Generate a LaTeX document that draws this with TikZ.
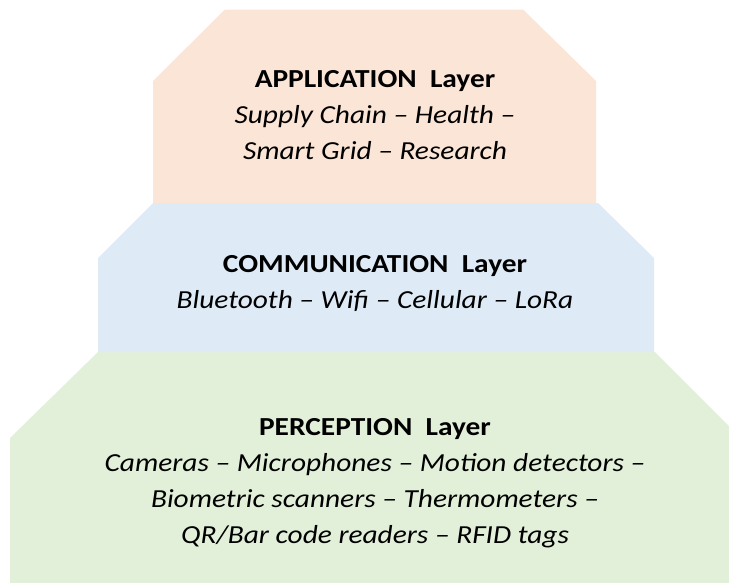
\documentclass[tikz,border=0pt]{standalone}
\usepackage{fontspec}
\setmainfont{Carlito}[FakeStretch=1.13]
\definecolor{appfill}{HTML}{FBE5D6}
\definecolor{comfill}{HTML}{DEEBF7}
\definecolor{perfill}{HTML}{E2F0D9}
\begin{document}
\begin{tikzpicture}[x=1pt,y=-1pt,
  layerbox/.style={draw=none},
  layertext/.style={align=center,inner sep=0pt,font=\fontsize{26}{36}\selectfont}]
  % canvas
  \path[fill=white] (0,0) rectangle (729,582);
  \useasboundingbox (0,0) rectangle (729,582);
  \begin{scope}
    \clip (0,0) rectangle (729,582);
    % perception layer (widest, runs past the edges)
    \fill[perfill,layerbox] (98,352) -- (655,352) -- (741,438) -- (741,600)
      -- (10,600) -- (10,438) -- cycle;
    % communication layer
    \fill[comfill,layerbox] (153,203) -- (598,203) -- (654,258) -- (654,352)
      -- (98,352) -- (98,258) -- cycle;
    % application layer
    \fill[appfill,layerbox] (225,9.5) -- (523,9.5) -- (596,81) -- (596,203)
      -- (153,203) -- (153,81) -- cycle;
  \end{scope}
  \node[layertext] (app) at (375,115)
    {\textbf{APPLICATION\ \ Layer}\\
     \textit{Supply Chain – Health –}\\
     \textit{Smart Grid – Research}};
  \node[layertext] (com) at (375,283)
    {\textbf{COMMUNICATION\ \ Layer}\\
     \textit{Bluetooth – Wifi – Cellular – LoRa}};
  \node[layertext] (per) at (375,483)
    {\textbf{PERCEPTION\ \ Layer}\\
     \textit{Cameras – Microphones – Motion detectors –}\\
     \textit{Biometric scanners – Thermometers –}\\
     \textit{QR/Bar code readers – RFID tags}};
\end{tikzpicture}
\end{document}
